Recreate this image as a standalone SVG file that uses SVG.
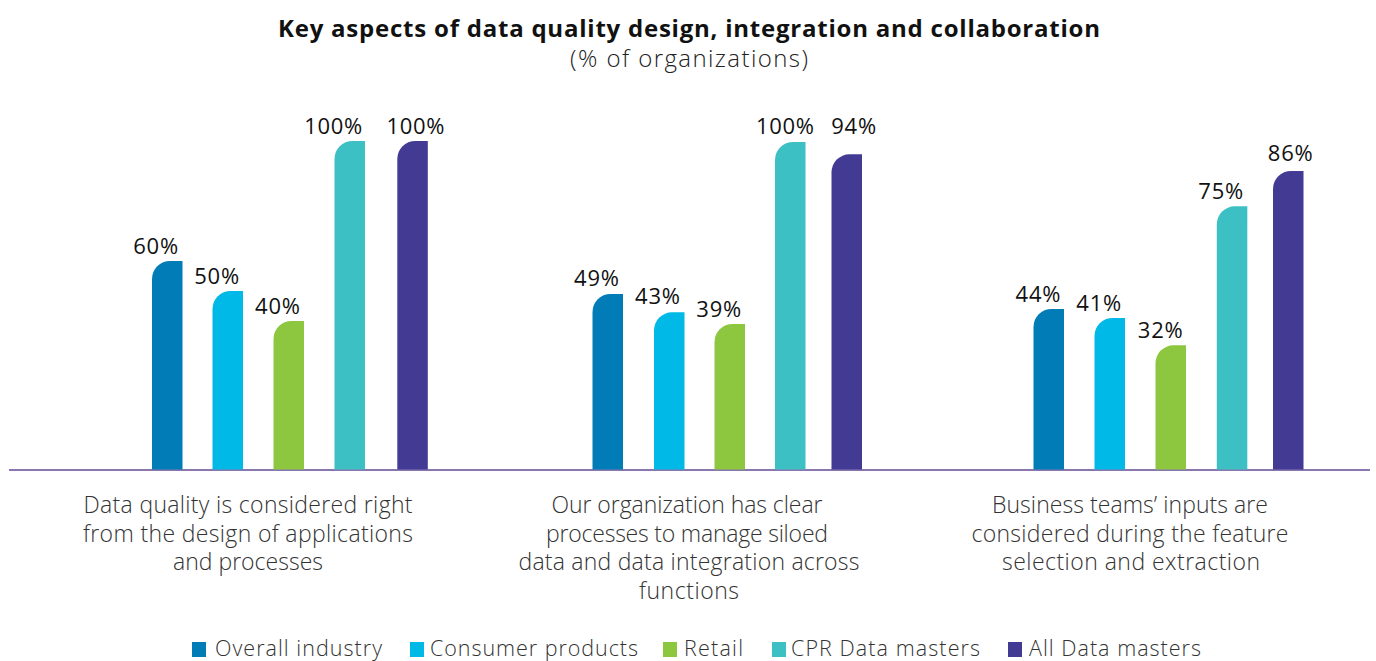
<svg xmlns="http://www.w3.org/2000/svg" width="1376" height="661" viewBox="0 0 1376 661">
<style>
.title{font-family:"Open Sans","Noto Sans","Liberation Sans",sans-serif;font-weight:700;font-size:24px;fill:#111;text-anchor:middle}
.sub{font-family:"Open Sans","Noto Sans","Liberation Sans",sans-serif;font-weight:300;font-size:24px;fill:#222;text-anchor:middle}
.val{font-family:"Open Sans","Noto Sans","Liberation Sans",sans-serif;font-weight:400;font-size:22px;fill:#111;text-anchor:middle}
.cat{font-family:"Open Sans","Noto Sans","Liberation Sans",sans-serif;font-weight:300;font-size:23px;fill:#333;text-anchor:middle}
.leg{font-family:"Open Sans","Noto Sans","Liberation Sans",sans-serif;font-weight:300;font-size:21.5px;fill:#333}
.c1{fill:#017cb7}.c2{fill:#00b9e6}.c3{fill:#8dc63f}.c4{fill:#3cc0c3}.c5{fill:#433b93}
</style>
<rect width="1376" height="661" fill="#fff"/>
<g id="title">
<text class="title" x="689" y="37" textLength="822">Key aspects of data quality design, integration and collaboration</text>
<text class="sub" x="689" y="67" textLength="238">(% of organizations)</text>
</g>
<g id="axis">
<line x1="9" y1="470" x2="1370" y2="470" stroke="#654a96" stroke-width="1.6"/>
</g>
<g id="group1">
<path class="c1" d="M152,469.5 V279 A18,18 0 0 1 170,261 H182.5 V469.5 Z"/>
<path class="c2" d="M212.5,469.5 V309 A18,18 0 0 1 230.5,291 H243 V469.5 Z"/>
<path class="c3" d="M273.5,469.5 V339 A18,18 0 0 1 291.5,321 H304 V469.5 Z"/>
<path class="c4" d="M334.5,469.5 V159 A18,18 0 0 1 352.5,141 H365 V469.5 Z"/>
<path class="c5" d="M397.3,469.5 V159 A18,18 0 0 1 415.3,141 H427.8 V469.5 Z"/>
<text class="val" x="155.7" y="253.5" textLength="45">60%</text>
<text class="val" x="216.7" y="283.5" textLength="45">50%</text>
<text class="val" x="277.5" y="313.5" textLength="45">40%</text>
<text class="val" x="333.3" y="133.5" textLength="58">100%</text>
<text class="val" x="415.5" y="133.5" textLength="58">100%</text>
<text class="cat" x="248" y="513"><tspan x="248" textLength="329">Data quality is considered right</tspan><tspan x="248" dy="28.5" textLength="330">from the design of applications</tspan><tspan x="248" dy="28.5" textLength="150">and processes</tspan></text>
</g>
<g id="group2">
<path class="c1" d="M592.5,469.5 V312 A18,18 0 0 1 610.5,294 H623 V469.5 Z"/>
<path class="c2" d="M654,469.5 V330.3 A18,18 0 0 1 672,312.3 H684.5 V469.5 Z"/>
<path class="c3" d="M714.5,469.5 V342 A18,18 0 0 1 732.5,324 H745 V469.5 Z"/>
<path class="c4" d="M775,469.5 V160 A18,18 0 0 1 793,142 H805.5 V469.5 Z"/>
<path class="c5" d="M831.5,469.5 V172.3 A18,18 0 0 1 849.5,154.3 H862 V469.5 Z"/>
<text class="val" x="596.5" y="286" textLength="45">49%</text>
<text class="val" x="657.5" y="304" textLength="45">43%</text>
<text class="val" x="718.8" y="316.5" textLength="45">39%</text>
<text class="val" x="785" y="134" textLength="58">100%</text>
<text class="val" x="853.7" y="134" textLength="45">94%</text>
<text class="cat" x="687" y="513"><tspan x="687" textLength="271">Our organization has clear</tspan><tspan x="687" dy="28.5" textLength="282">processes to manage siloed</tspan><tspan x="689" dy="28.5" textLength="341">data and data integration across</tspan><tspan x="689" dy="28.5" textLength="100">functions</tspan></text>
</g>
<g id="group3">
<path class="c1" d="M1033.5,469.5 V327 A18,18 0 0 1 1051.5,309 H1064 V469.5 Z"/>
<path class="c2" d="M1094.5,469.5 V336 A18,18 0 0 1 1112.5,318 H1125 V469.5 Z"/>
<path class="c3" d="M1155.5,469.5 V363.3 A18,18 0 0 1 1173.5,345.3 H1186 V469.5 Z"/>
<path class="c4" d="M1216.8,469.5 V224.3 A18,18 0 0 1 1234.8,206.3 H1247.3 V469.5 Z"/>
<path class="c5" d="M1273,469.5 V189 A18,18 0 0 1 1291,171 H1303.5 V469.5 Z"/>
<text class="val" x="1038" y="301.5" textLength="45">44%</text>
<text class="val" x="1098.8" y="310.5" textLength="45">41%</text>
<text class="val" x="1160.3" y="337.5" textLength="45">32%</text>
<text class="val" x="1220.8" y="199" textLength="45">75%</text>
<text class="val" x="1290.3" y="160.5" textLength="45">86%</text>
<text class="cat" x="1130" y="513"><tspan x="1130" textLength="276">Business teams’ inputs are</tspan><tspan x="1130" dy="28.5" textLength="317">considered during the feature</tspan><tspan x="1131" dy="28.5" textLength="258">selection and extraction</tspan></text>
</g>
<g id="legend">
<rect class="c1" x="192" y="642" width="14" height="15"/>
<text class="leg" x="215" y="655.5" textLength="167">Overall industry</text>
<rect class="c2" x="410" y="642" width="14" height="15"/>
<text class="leg" x="430" y="655.5" textLength="208">Consumer products</text>
<rect class="c3" x="663" y="642" width="14" height="15"/>
<text class="leg" x="684" y="655.5" textLength="59">Retail</text>
<rect class="c4" x="772" y="642" width="14" height="15"/>
<text class="leg" x="791" y="655.5" textLength="189">CPR Data masters</text>
<rect class="c5" x="1008" y="642" width="14" height="15"/>
<text class="leg" x="1029" y="655.5" textLength="172">All Data masters</text>
</g>
</svg>
